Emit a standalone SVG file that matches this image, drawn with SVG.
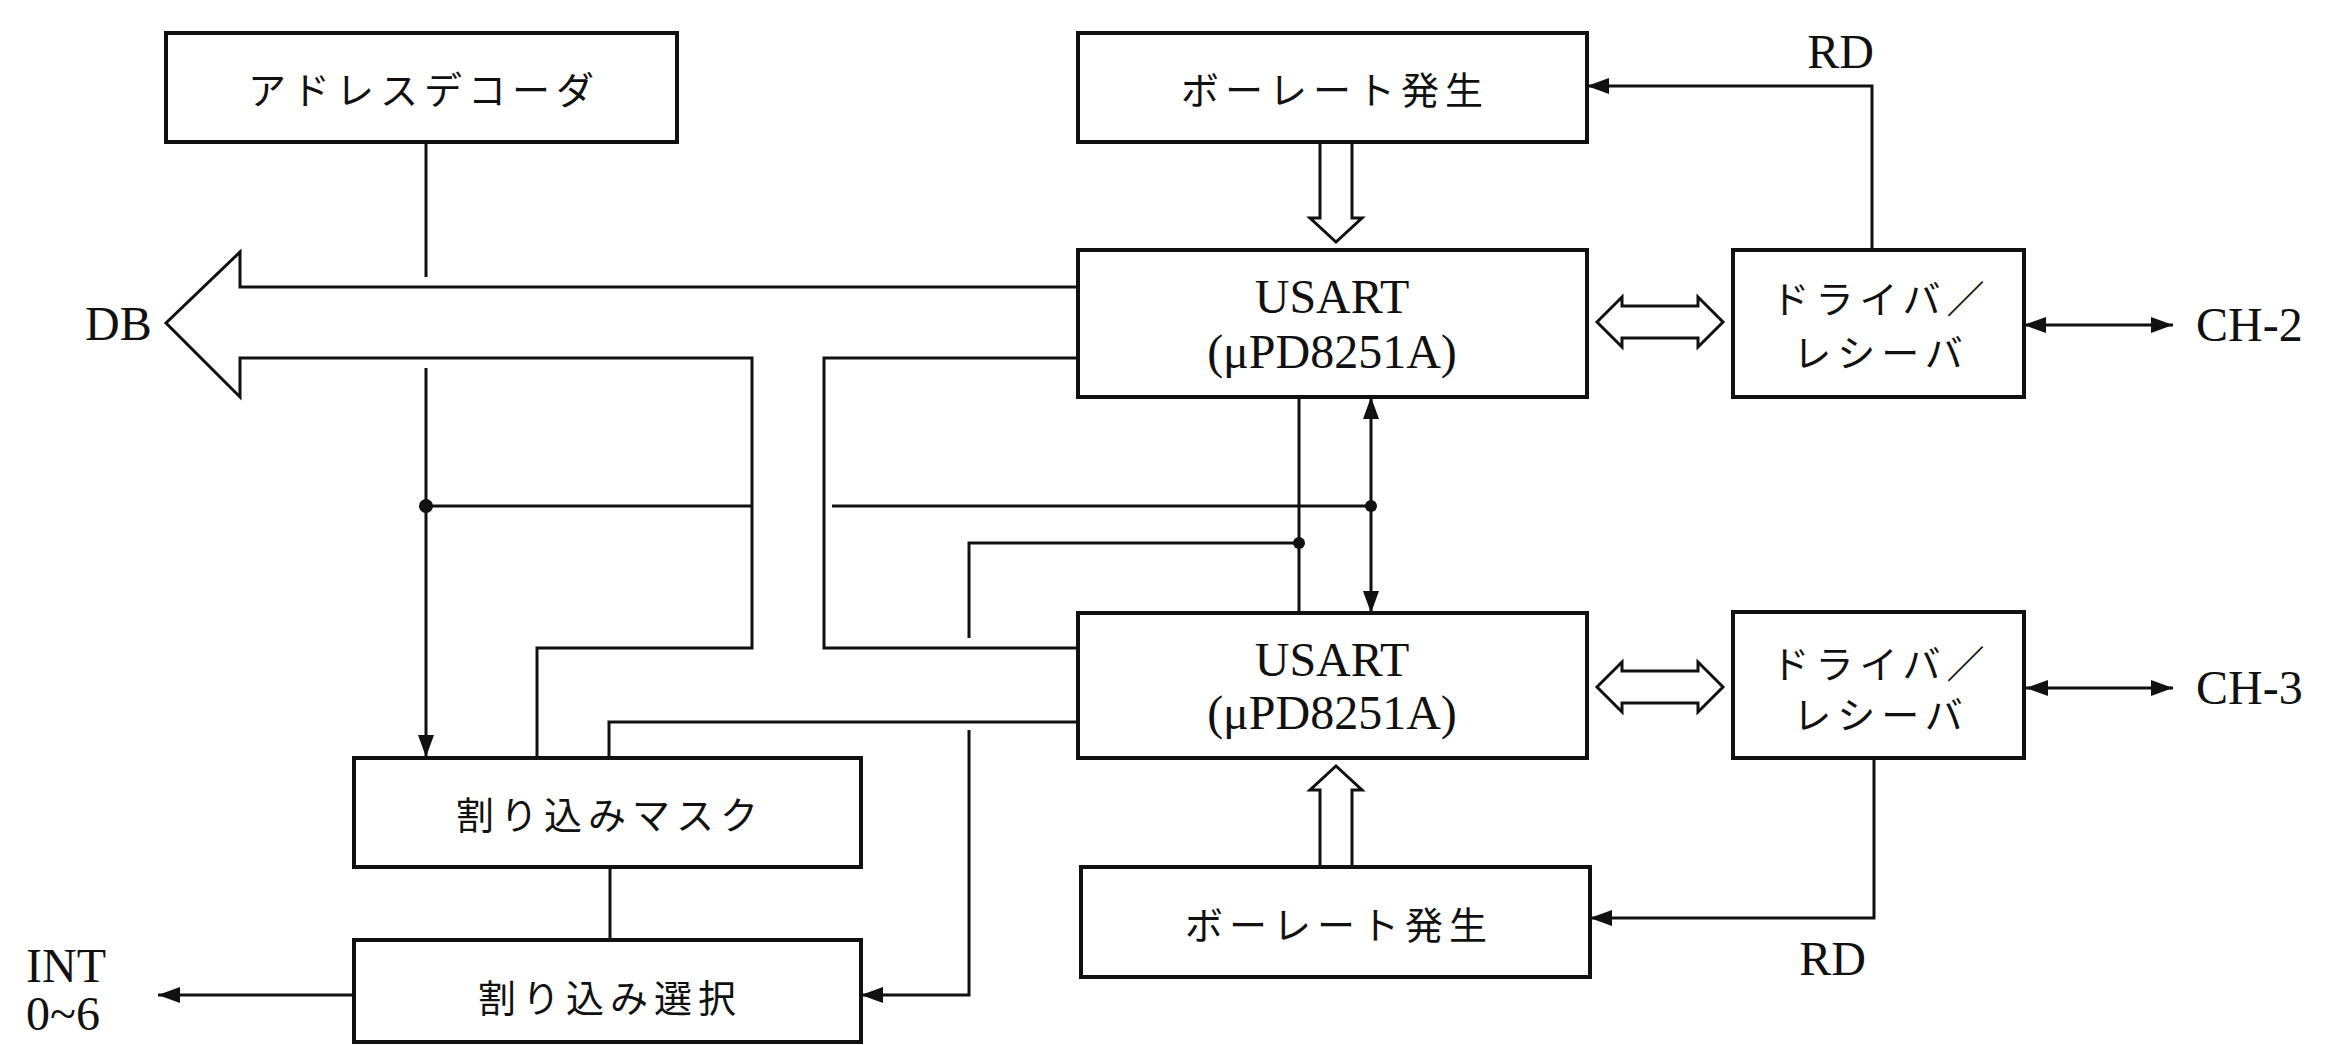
<svg xmlns="http://www.w3.org/2000/svg" width="2328" height="1045" viewBox="0 0 2328 1045">
<defs>
<style>
.box{fill:#fff;stroke:#111;stroke-width:4}
.ln{fill:none;stroke:#111;stroke-width:3}
.bus{fill:#fff;stroke:#111;stroke-width:3;stroke-linejoin:miter}
.jp{font-family:"Noto Sans CJK JP",sans-serif;font-size:38px;letter-spacing:6px;fill:#111;text-anchor:middle;dominant-baseline:central}
.lat{font-family:"Liberation Serif",serif;font-size:48px;fill:#111}
.dot{fill:#111}
</style>
<marker id="ah" markerUnits="userSpaceOnUse" markerWidth="24" markerHeight="18" refX="22" refY="8" orient="auto-start-reverse" viewBox="0 0 24 18">
<path d="M0,0 L22,8 L0,16 z" fill="#111"/>
</marker>
</defs>
<rect width="2328" height="1045" fill="#fff"/>

<g id="connectors">
<!-- DB bus -->
<path class="ln" d="M1078,287 L240,287 L240,252 L166,323 L240,397 L240,358 L752,358 L752,648 L537,648 L537,757"/>
<path class="ln" d="M1078,358 L824,358 L824,648 L1078,648"/>
<path class="ln" d="M1078,722 L609,722 L609,757"/>
<!-- address decoder line -->
<path class="ln" d="M426,142 L426,277"/>
<path class="ln" d="M426,368 L426,757" marker-end="url(#ah)"/>
<!-- y 506 line -->
<path class="ln" d="M426,506 L752,506"/>
<path class="ln" d="M832,506 L1371,506"/>
<!-- x 1299 line and branch -->
<path class="ln" d="M1299,397 L1299,613"/>
<path class="ln" d="M1299,543 L969,543 L969,638"/>
<path class="ln" d="M969,730 L969,995 L861,995" marker-end="url(#ah)"/>
<!-- USART1-USART2 double arrow -->
<path class="ln" d="M1371,397 L1371,613" marker-start="url(#ah)" marker-end="url(#ah)"/>
<!-- mask to select -->
<path class="ln" d="M610,867 L610,940"/>
<!-- INT -->
<path class="ln" d="M354,995 L158,995" marker-end="url(#ah)"/>
<!-- RD lines -->
<path class="ln" d="M1872,250 L1872,86 L1587,86" marker-end="url(#ah)"/>
<path class="ln" d="M1874,758 L1874,918 L1590,918" marker-end="url(#ah)"/>
<!-- CH lines -->
<path class="ln" d="M2024,325 L2173,325" marker-start="url(#ah)" marker-end="url(#ah)"/>
<path class="ln" d="M2026,688 L2173,688" marker-start="url(#ah)" marker-end="url(#ah)"/>
<!-- hollow arrows -->
<path class="bus" d="M1320,142 L1320,218 L1310,218 L1336,242 L1362,218 L1352,218 L1352,142"/>
<path class="bus" d="M1320,867 L1320,790 L1310,790 L1336,766 L1362,790 L1352,790 L1352,867"/>
<path class="bus" d="M1597,322 L1622,297 L1622,306 L1698,306 L1698,297 L1723,322 L1698,347 L1698,338 L1622,338 L1622,347 Z"/>
<path class="bus" d="M1597,687 L1622,662 L1622,671 L1698,671 L1698,662 L1723,687 L1698,712 L1698,703 L1622,703 L1622,712 Z"/>
<!-- dots -->
<circle class="dot" cx="426" cy="506" r="7"/>
<circle class="dot" cx="1371" cy="506" r="6"/>
<circle class="dot" cx="1299" cy="543" r="6"/>
</g>

<g id="addr_decoder">
<rect class="box" x="166" y="33" width="511" height="109"/>
<text class="jp" x="424" y="87">アドレスデコーダ</text>
</g>
<g id="baud_top">
<rect class="box" x="1078" y="33" width="509" height="109"/>
<text class="jp" x="1335" y="87">ボーレート発生</text>
</g>
<g id="usart1">
<rect class="box" x="1078" y="250" width="509" height="147"/>
<text class="lat" x="1332" y="313" text-anchor="middle">USART</text>
<text class="lat" x="1332" y="368" text-anchor="middle">(μPD8251A)</text>
</g>
<g id="driver1">
<rect class="box" x="1733" y="250" width="291" height="147"/>
<text class="jp" x="1881" y="296">ドライバ／</text>
<text class="jp" x="1881" y="350">レシーバ</text>
</g>
<g id="usart2">
<rect class="box" x="1078" y="613" width="509" height="145"/>
<text class="lat" x="1332" y="676" text-anchor="middle">USART</text>
<text class="lat" x="1332" y="729" text-anchor="middle">(μPD8251A)</text>
</g>
<g id="driver2">
<rect class="box" x="1733" y="612" width="291" height="146"/>
<text class="jp" x="1881" y="661">ドライバ／</text>
<text class="jp" x="1881" y="712">レシーバ</text>
</g>
<g id="baud_bottom">
<rect class="box" x="1081" y="867" width="509" height="110"/>
<text class="jp" x="1339" y="922">ボーレート発生</text>
</g>
<g id="int_mask">
<rect class="box" x="354" y="758" width="507" height="109"/>
<text class="jp" x="610" y="812">割り込みマスク</text>
</g>
<g id="int_select">
<rect class="box" x="354" y="940" width="507" height="102"/>
<text class="jp" x="610" y="995">割り込み選択</text>
</g>

<g id="labels">
<text class="lat" x="85" y="340" font-size="46">DB</text>
<text class="lat" x="1874" y="68" text-anchor="end" font-size="44">RD</text>
<text class="lat" x="1866" y="975" text-anchor="end" font-size="44">RD</text>
<text class="lat" x="2196" y="341">CH-2</text>
<text class="lat" x="2196" y="704">CH-3</text>
<text class="lat" x="26" y="982">INT</text>
<text class="lat" x="26" y="1030">0~6</text>
</g>
</svg>
